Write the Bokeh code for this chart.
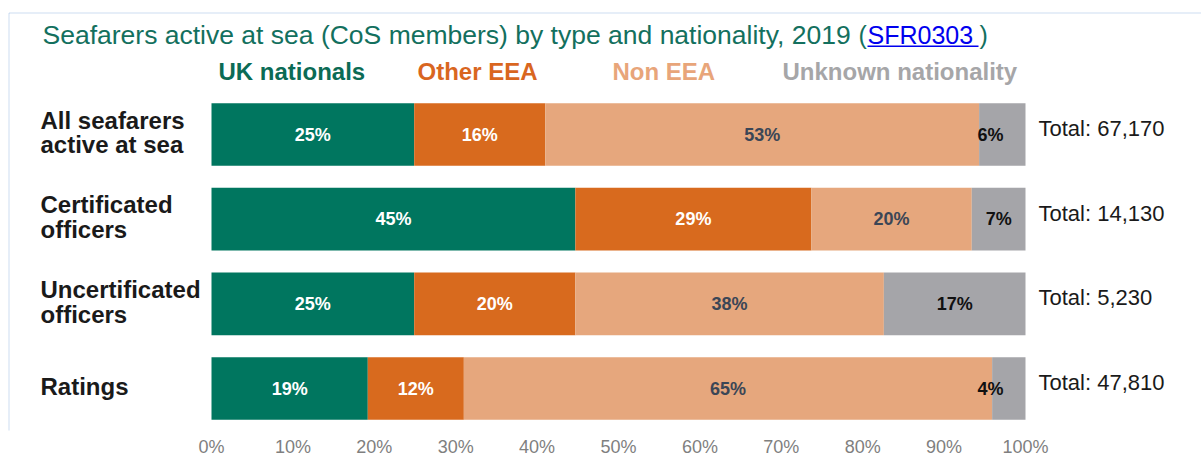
from bokeh.plotting import figure
from bokeh.models import ColumnDataSource, Range1d, FixedTicker, Label, BoxAnnotation, PrintfTickFormatter
from bokeh.core.properties import value
from bokeh.embed import file_html
from bokeh.resources import INLINE

# ---------------- data ----------------
categories = ["All seafarers\nactive at sea", "Certificated\nofficers",
              "Uncertificated\nofficers", "Ratings"]
uk_nationals = [24.9, 44.7, 24.9, 19.2]
other_eea = [16.1, 29.0, 19.8, 11.8]
non_eea = [53.3, 19.7, 37.9, 64.9]
unknown_nat = [5.7, 6.6, 17.4, 4.1]
totals = [67170, 14130, 5230, 47810]
series_names = ["UK nationals", "Other EEA", "Non EEA", "Unknown nationality"]
tick_values = [0, 10, 20, 30, 40, 50, 60, 70, 80, 90, 100]

# ---------------- style ----------------
FONT = "Liberation Sans"
bar_colors = ["#00765F", "#D86A1E", "#E6A77D", "#A5A5A9"]
legend_colors = ["#0B6B55", "#D9661F", "#E8A57A", "#A6A6A8"]
label_colors = ["#FFFFFF", "#FFFFFF", "#3B4656", "#111111"]
title_color = "#13705E"

# pixel layout helpers (frame covers whole canvas width)
X0_PX, PX_PER_PCT = 211.0, 8.14
ROW0_PX, PX_PER_ROW = 134.0, 84.67
FRAME_W, FRAME_H = 1201, 430


def xs(px):
    return (px - X0_PX) / PX_PER_PCT


def ys(py):
    return (py - ROW0_PX) / PX_PER_ROW


ypos = list(range(len(categories)))

p = figure(frame_width=FRAME_W, frame_height=FRAME_H, output_backend="svg",
           toolbar_location=None, min_border=0, y_axis_location=None,
           x_range=Range1d(xs(0), xs(FRAME_W)), y_range=Range1d(ys(FRAME_H), ys(0)))
p.outline_line_color = None
p.grid.visible = False
p.background_fill_color = "white"
p.border_fill_color = "white"

xa = p.xaxis[0]
xa.ticker = FixedTicker(ticks=tick_values)
xa.formatter = PrintfTickFormatter(format="%d%%")
xa.axis_line_color = None
xa.major_tick_line_color = None
xa.minor_tick_line_color = None
xa.major_tick_out = 0
xa.major_tick_in = 0
xa.major_label_text_font = FONT
xa.major_label_text_font_size = "18px"
xa.major_label_text_color = "#7F7F7F"
xa.major_label_standoff = 6

src = ColumnDataSource(dict(y=ypos, uk=uk_nationals, eea=other_eea, non=non_eea,
                            unk=unknown_nat, cat=categories,
                            tot=["Total: {:,}".format(t) for t in totals]))

p.hbar_stack(["uk", "eea", "non", "unk"], y="y", height=0.74, color=bar_colors,
             line_color=None, source=src)

# segment labels
lx, ly, lt, lc = [], [], [], []
series = [uk_nationals, other_eea, non_eea, unknown_nat]
for i in range(len(categories)):
    left = 0.0
    for s, vals in enumerate(series):
        v = vals[i]
        cx = left + v / 2.0
        if v < 6:
            cx = min(cx, 95.7)
        lx.append(cx)
        ly.append(ypos[i])
        lt.append("{:.0f}%".format(v))
        lc.append(label_colors[s])
        left += v
lsrc = ColumnDataSource(dict(x=lx, y=ly, t=lt, c=lc))
p.text(x="x", y="y", text="t", text_color="c", source=lsrc, text_align="center",
       text_baseline="middle", text_font=value(FONT), text_font_style="bold",
       text_font_size="18px")

# category labels
p.text(x=xs(40), y="y", text="cat", source=src, text_align="left", text_baseline="middle",
       text_font=value(FONT), text_font_style="bold", text_font_size="24px",
       text_color="#1A1A1A", text_line_height=0.92, y_offset=-2)

# totals
p.text(x=xs(1038), y="y", text="tot", source=src, text_align="left", text_baseline="middle",
       text_font=value(FONT), text_font_size="22px", text_color="#1A1A1A", y_offset=-6)

# legend row
for name, px, col in zip(series_names, [218, 417, 612, 782], legend_colors):
    p.add_layout(Label(x=xs(px), y=ys(71), text=name, text_font=FONT, text_font_style="bold",
                       text_font_size="24px", text_color=col, text_baseline="middle"))

# title
p.add_layout(Label(x=xs(42), y=ys(34), text="Seafarers active at sea (CoS members) by type and nationality, 2019",
                   text_font=FONT, text_font_size="26.5px", text_color=title_color, text_baseline="middle"))
p.add_layout(Label(x=xs(858), y=ys(34), text="(",
                   text_font=FONT, text_font_size="25px", text_color=title_color, text_baseline="middle"))
p.add_layout(Label(x=xs(867), y=ys(34), text="SFR0303",
                   text_font=FONT, text_font_size="25px", text_color="#0000EE", text_baseline="middle"))
p.add_layout(Label(x=xs(979), y=ys(34), text=")",
                   text_font=FONT, text_font_size="25px", text_color=title_color, text_baseline="middle"))
p.add_layout(BoxAnnotation(left=xs(867), right=xs(978), top=ys(45), bottom=ys(46.5),
                           fill_color="#0000EE", fill_alpha=1, line_color=None))

# outer border (top and left edges)
p.add_layout(BoxAnnotation(left=xs(8.5), right=xs(1400), top=ys(12.5), bottom=ys(700),
                           fill_alpha=0, line_color="#5B8BD0", line_width=1))

open("out.html", "w").write(file_html(p, INLINE))
